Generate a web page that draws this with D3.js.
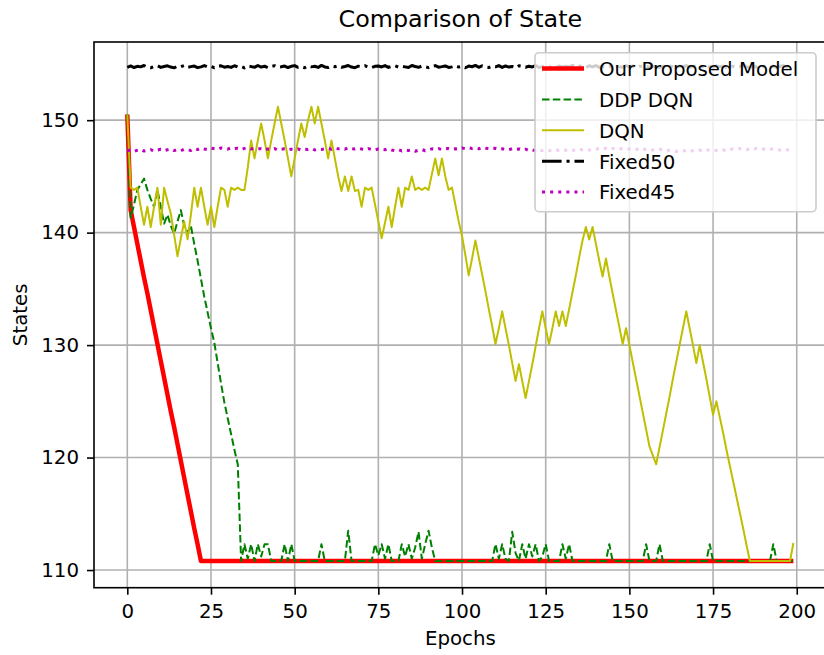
<!DOCTYPE html>
<html><head><meta charset="utf-8">
<script src="https://cdn.jsdelivr.net/npm/d3@7"></script>
<style>html,body{margin:0;padding:0;background:#fff;} svg{display:block;font-family:"DejaVu Sans",sans-serif;}</style>
</head><body><svg id="chart" width="824" height="655"></svg>
<script>
const epochs = d3.range(0, 200);
const xTicks = [0, 25, 50, 75, 100, 125, 150, 175, 200];
const yTicks = [110, 120, 130, 140, 150];
const titleText = "Comparison of State";
const xLabel = "Epochs";
const yLabel = "States";
const seriesNames = ["Our Proposed Model", "DDP DQN", "DQN", "Fixed50", "Fixed45"];

const proposed = [
150.5,142.0,140.5,139.0,137.5,136.0,134.6,133.1,131.6,130.1,
128.6,127.1,125.6,124.1,122.7,121.2,119.7,118.2,116.7,115.2,
113.7,112.3,110.8,110.8,110.8,110.8,110.8,110.8,110.8,110.8,
110.8,110.8,110.8,110.8,110.8,110.8,110.8,110.8,110.8,110.8,
110.8,110.8,110.8,110.8,110.8,110.8,110.8,110.8,110.8,110.8,
110.8,110.8,110.8,110.8,110.8,110.8,110.8,110.8,110.8,110.8,
110.8,110.8,110.8,110.8,110.8,110.8,110.8,110.8,110.8,110.8,
110.8,110.8,110.8,110.8,110.8,110.8,110.8,110.8,110.8,110.8,
110.8,110.8,110.8,110.8,110.8,110.8,110.8,110.8,110.8,110.8,
110.8,110.8,110.8,110.8,110.8,110.8,110.8,110.8,110.8,110.8,
110.8,110.8,110.8,110.8,110.8,110.8,110.8,110.8,110.8,110.8,
110.8,110.8,110.8,110.8,110.8,110.8,110.8,110.8,110.8,110.8,
110.8,110.8,110.8,110.8,110.8,110.8,110.8,110.8,110.8,110.8,
110.8,110.8,110.8,110.8,110.8,110.8,110.8,110.8,110.8,110.8,
110.8,110.8,110.8,110.8,110.8,110.8,110.8,110.8,110.8,110.8,
110.8,110.8,110.8,110.8,110.8,110.8,110.8,110.8,110.8,110.8,
110.8,110.8,110.8,110.8,110.8,110.8,110.8,110.8,110.8,110.8,
110.8,110.8,110.8,110.8,110.8,110.8,110.8,110.8,110.8,110.8,
110.8,110.8,110.8,110.8,110.8,110.8,110.8,110.8,110.8,110.8,
110.8,110.8,110.8,110.8,110.8,110.8,110.8,110.8,110.8,110.8];

const ddpDqn = [
150.5,141.3,142.5,143.8,144.3,144.8,143.8,143.0,142.3,143.8,
142.3,140.8,141.6,140.6,139.9,141.0,142.0,140.6,140.0,140.6,
139.0,137.5,135.9,134.3,132.9,131.5,130.2,128.4,126.6,124.9,
123.5,122.1,120.7,119.4,110.8,112.3,111.0,112.3,110.8,112.3,
111.2,112.3,112.3,110.8,110.8,110.8,110.8,112.3,110.8,112.3,
110.8,110.8,110.8,110.8,110.8,110.8,110.8,110.8,112.3,110.8,
110.8,110.8,110.8,110.8,110.8,110.8,113.5,110.8,110.8,110.8,
110.8,110.8,110.8,110.8,112.3,111.3,112.3,111.0,112.3,110.8,
110.8,110.8,112.3,111.2,112.3,111.0,112.0,113.4,111.0,112.3,
113.5,112.0,110.8,110.8,110.8,110.8,110.8,110.8,110.8,110.8,
110.8,110.8,110.8,110.8,110.8,110.8,110.8,110.8,110.8,110.8,
112.3,111.0,112.3,111.0,110.8,113.4,111.5,110.8,112.3,111.0,
112.3,111.2,112.3,110.8,111.2,112.3,110.8,110.8,110.8,110.8,
112.3,111.0,112.3,110.8,110.8,110.8,110.8,110.8,110.8,110.8,
110.8,110.8,110.8,110.8,112.3,110.8,110.8,110.8,110.8,110.8,
110.8,110.8,110.8,110.8,110.8,112.3,110.8,110.8,110.8,112.3,
110.8,110.8,110.8,110.8,110.8,110.8,110.8,110.8,110.8,110.8,
110.8,110.8,110.8,110.8,112.3,110.8,110.8,110.8,110.8,110.8,
110.8,110.8,110.8,110.8,110.8,110.8,110.8,110.8,110.8,110.8,
110.8,110.8,110.8,112.3,110.8,110.8,110.8,110.8,110.8,110.8];

const dqn = [
150.5,144.0,143.8,144.0,142.3,140.7,142.3,140.5,142.3,144.0,
140.7,144.0,142.8,141.7,139.8,137.9,139.5,141.0,139.4,141.6,
144.0,142.3,144.0,142.3,140.7,142.3,140.5,142.3,144.0,143.8,
142.3,144.0,143.8,144.0,143.8,143.8,145.8,148.2,146.6,148.2,
149.7,148.2,146.6,148.2,149.7,151.2,149.7,148.2,146.6,145.0,
146.6,148.2,149.7,148.5,150.0,151.2,149.7,151.2,149.7,148.2,
146.6,148.2,146.6,145.0,143.7,145.0,143.7,145.0,143.7,143.8,
142.3,144.0,143.8,144.0,142.5,141.0,139.5,140.9,142.3,140.5,
142.3,144.0,142.3,144.0,143.8,145.0,143.8,144.0,143.8,144.0,
143.8,145.2,146.6,145.1,146.6,145.0,143.8,144.0,142.5,141.0,
139.7,138.0,136.2,137.7,139.3,137.8,136.3,134.8,133.2,131.7,
130.1,131.5,133.0,131.5,130.0,128.4,126.8,128.3,126.8,125.3,
126.8,128.3,129.9,131.5,133.0,131.5,130.1,131.5,133.0,131.7,
133.0,131.7,133.2,134.7,136.2,137.8,139.3,140.5,139.4,140.5,
139.0,137.5,136.1,137.7,136.1,134.6,133.1,131.6,130.1,131.5,
130.0,128.5,127.0,125.5,124.0,122.5,121.0,120.2,119.4,120.9,
122.4,123.9,125.4,127.0,128.5,130.0,131.5,133.0,131.5,130.0,
128.4,130.0,128.5,127.0,125.4,123.8,125.0,123.6,122.2,120.7,
119.3,117.9,116.5,115.1,113.7,112.2,110.8,110.8,110.8,110.8,
110.8,110.8,110.8,110.8,110.8,110.8,110.8,110.8,110.8,112.4];

const fixed50 = [
154.70,154.82,154.68,154.79,154.74,154.86,154.71,154.66,154.78,154.84,
154.69,154.77,154.83,154.72,154.65,154.80,154.75,154.87,154.70,154.76,
154.81,154.67,154.74,154.85,154.72,154.78,154.66,154.80,154.83,154.71,
154.77,154.69,154.84,154.73,154.79,154.65,154.82,154.76,154.70,154.86,
154.72,154.80,154.67,154.78,154.84,154.71,154.75,154.81,154.68,154.79,
154.85,154.70,154.76,154.66,154.82,154.74,154.79,154.69,154.87,154.73,
154.68,154.81,154.75,154.83,154.70,154.77,154.86,154.72,154.66,154.80,
154.76,154.84,154.71,154.67,154.79,154.82,154.73,154.85,154.69,154.78,
154.83,154.72,154.80,154.74,154.68,154.86,154.77,154.70,154.81,154.75,
154.67,154.79,154.85,154.71,154.76,154.82,154.69,154.74,154.84,154.72,
154.78,154.66,154.81,154.75,154.87,154.70,154.83,154.73,154.68,154.80,
154.74,154.85,154.69,154.82,154.72,154.77,154.66,154.84,154.79,154.71,
154.80,154.73,154.86,154.68,154.76,154.83,154.71,154.78,154.65,154.82,
154.71,154.79,154.74,154.87,154.70,154.81,154.76,154.67,154.84,154.73,
154.86,154.69,154.78,154.72,154.83,154.66,154.80,154.75,154.71,154.85,
154.73,154.82,154.67,154.80,154.77,154.84,154.70,154.79,154.74,154.68,
154.79,154.71,154.84,154.76,154.66,154.81,154.73,154.86,154.69,154.77,
154.82,154.68,154.75,154.85,154.72,154.70,154.83,154.76,154.80,154.67,
154.69,154.80,154.73,154.78,154.86,154.74,154.68,154.82,154.71,154.84,
154.76,154.83,154.70,154.81,154.67,154.79,154.85,154.72,154.77,154.74];

const fixed45 = [
147.28,147.36,147.22,147.33,147.40,147.25,147.31,147.38,147.24,147.34,
147.41,147.29,147.37,147.44,147.30,147.36,147.27,147.42,147.35,147.31,
147.48,147.39,147.52,147.43,147.37,147.50,147.46,147.40,147.53,147.44,
147.42,147.55,147.47,147.51,147.40,147.49,147.56,147.44,147.50,147.45,
147.46,147.35,147.43,147.38,147.47,147.33,147.41,147.45,147.36,147.42,
147.37,147.44,147.34,147.42,147.39,147.47,147.35,147.43,147.40,147.46,
147.50,147.41,147.53,147.45,147.49,147.42,147.55,147.46,147.43,147.51,
147.44,147.36,147.47,147.39,147.33,147.45,147.41,147.37,147.46,147.35,
147.29,147.38,147.26,147.34,147.31,147.37,147.24,147.33,147.39,147.28,
147.36,147.45,147.40,147.47,147.38,147.44,147.49,147.41,147.46,147.43,
147.53,147.46,147.55,147.48,147.52,147.45,147.57,147.50,147.47,147.54,
147.48,147.39,147.45,147.41,147.36,147.47,147.40,147.44,147.35,147.42,
147.30,147.37,147.27,147.34,147.29,147.36,147.31,147.25,147.35,147.33,
147.39,147.32,147.41,147.35,147.30,147.40,147.37,147.43,147.34,147.38,
147.42,147.49,147.44,147.51,147.40,147.47,147.52,147.43,147.48,147.45,
147.44,147.37,147.42,147.35,147.46,147.39,147.41,147.34,147.38,147.43,
147.31,147.25,147.33,147.27,147.22,147.30,147.26,147.32,147.24,147.29,
147.27,147.34,147.25,147.32,147.36,147.28,147.31,147.26,147.35,147.29,
147.38,147.45,147.40,147.47,147.43,147.37,147.46,147.41,147.48,147.44,
147.43,147.36,147.41,147.45,147.38,147.34,147.42,147.37,147.33,147.35];

const seriesData = [proposed, ddpDqn, dqn, fixed50, fixed45];
const seriesStyle = [
  {color: "#ff0000", width: 4.5, dash: null},
  {color: "#008000", width: 2, dash: "7.5,3.3"},
  {color: "#bfbf00", width: 2, dash: null},
  {color: "#000000", width: 3, dash: "19.6,4.9,3.1,4.9"},
  {color: "#bf00bf", width: 3, dash: "3.06,5.05"}
];

const svg = d3.select("#chart");
const L = 94, R = 826.7, T = 42, B = 587.7;
const x = d3.scaleLinear().domain([-9.95, 208.95]).range([L, R]);
const y = d3.scaleLinear().domain([108.43, 156.95]).range([B, T]);
const FS = 19.8;
const TXT = "#000000";

svg.append("clipPath").attr("id", "clip").append("rect")
  .attr("x", L).attr("y", T).attr("width", R - L).attr("height", B - T);

// grid
const grid = svg.append("g");
grid.selectAll(".gx").data(xTicks).join("line")
  .attr("x1", d => x(d)).attr("x2", d => x(d)).attr("y1", T).attr("y2", B)
  .attr("stroke", "#b0b0b0").attr("stroke-width", 1.6);
grid.selectAll(".gy").data(yTicks).join("line")
  .attr("x1", L).attr("x2", R).attr("y1", d => y(d)).attr("y2", d => y(d))
  .attr("stroke", "#b0b0b0").attr("stroke-width", 1.6);

// lines
const lineGen = d3.line().x((d, i) => x(epochs[i])).y(d => y(d));
const lg = svg.append("g").attr("clip-path", "url(#clip)");
seriesData.forEach((data, k) => {
  const st = seriesStyle[k];
  const p = lg.append("path").datum(data).attr("d", lineGen)
    .attr("fill", "none").attr("stroke", st.color).attr("stroke-width", st.width)
    .attr("stroke-linejoin", "round");
  if (st.dash) p.attr("stroke-dasharray", st.dash);
});

// axes
const xAxis = d3.axisBottom(x).tickValues(xTicks).tickFormat(d3.format("d"))
  .tickSize(7).tickSizeOuter(0).tickPadding(9.6);
const yAxis = d3.axisLeft(y).tickValues(yTicks).tickFormat(d3.format("d"))
  .tickSize(7).tickSizeOuter(0).tickPadding(8);
const gx = svg.append("g").attr("transform", `translate(0,${B})`).call(xAxis);
const gy = svg.append("g").attr("transform", `translate(${L},0)`).call(yAxis);
[gx, gy].forEach(g => {
  g.select(".domain").remove();
  g.selectAll(".tick line").attr("stroke", "#000").attr("stroke-width", 1.6);
  g.selectAll(".tick text").attr("fill", TXT).attr("font-size", FS)
    .attr("font-family", "DejaVu Sans");
});

// spines
svg.append("rect").attr("x", L).attr("y", T).attr("width", R - L).attr("height", B - T)
  .attr("fill", "none").attr("stroke", "#000").attr("stroke-width", 1.6);

// labels
svg.append("text").attr("x", (L + R) / 2).attr("y", 27).attr("text-anchor", "middle")
  .attr("font-size", 23.8).attr("fill", TXT).text(titleText);
svg.append("text").attr("x", (L + R) / 2).attr("y", 645).attr("text-anchor", "middle")
  .attr("font-size", FS).attr("fill", TXT).text(xLabel);
svg.append("text").attr("transform", `translate(26.7,${(T + B) / 2}) rotate(-90)`)
  .attr("text-anchor", "middle").attr("font-size", FS).attr("fill", TXT).text(yLabel);

// legend
const lgd = svg.append("g");
lgd.append("rect").attr("x", 535).attr("y", 52.7).attr("width", 281).attr("height", 159)
  .attr("rx", 4).attr("fill", "#ffffff").attr("fill-opacity", 0.8)
  .attr("stroke", "#cccccc").attr("stroke-width", 1.6);
seriesNames.forEach((name, k) => {
  const cy = 68.5 + k * 30.9;
  const st = seriesStyle[k];
  const ln = lgd.append("line").attr("x1", 542).attr("x2", 584).attr("y1", cy).attr("y2", cy)
    .attr("stroke", st.color).attr("stroke-width", st.width);
  if (st.dash) ln.attr("stroke-dasharray", st.dash);
  lgd.append("text").attr("x", 599).attr("y", cy + 7.3).attr("font-size", FS)
    .attr("fill", TXT).text(name);
});
</script>
</body></html>
